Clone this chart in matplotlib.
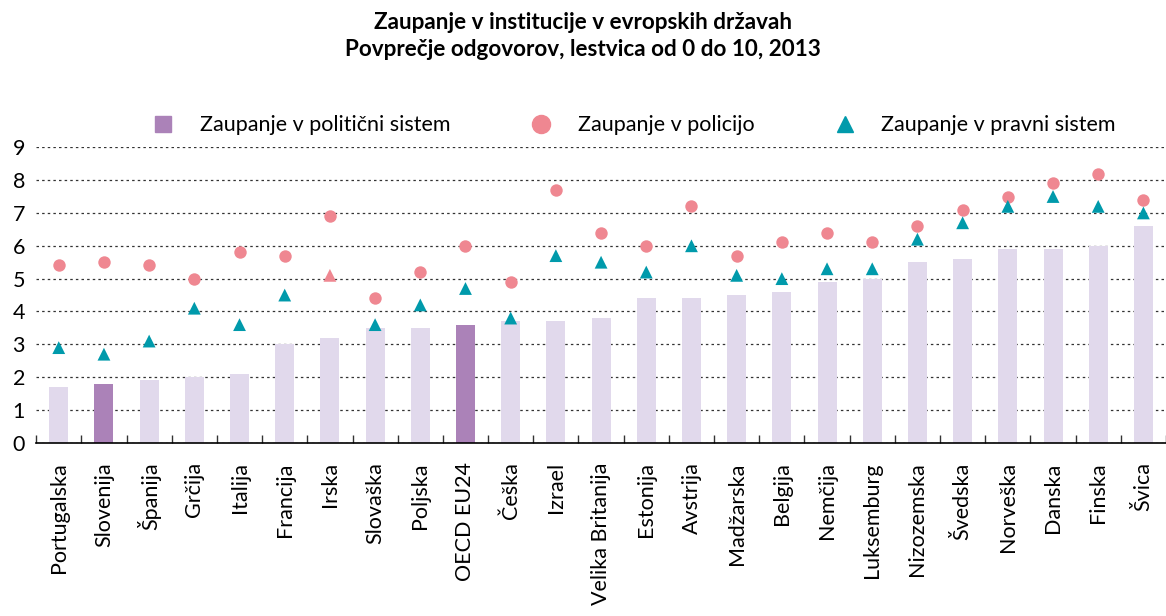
import matplotlib
matplotlib.use("Agg")
import matplotlib.pyplot as plt
from matplotlib.lines import Line2D
import numpy as np

countries = [
    "Portugalska", "Slovenija", "Španija", "Grčija", "Italija", "Francija",
    "Irska", "Slovaška", "Poljska", "OECD EU24", "Češka", "Izrael",
    "Velika Britanija", "Estonija", "Avstrija", "Madžarska", "Belgija",
    "Nemčija", "Luksemburg", "Nizozemska", "Švedska", "Norveška", "Danska",
    "Finska", "Švica",
]
political = [1.7, 1.8, 1.9, 2.0, 2.1, 3.0, 3.2, 3.5, 3.5, 3.6, 3.7, 3.7, 3.8,
             4.4, 4.4, 4.5, 4.6, 4.9, 5.0, 5.5, 5.6, 5.9, 5.9, 6.0, 6.6]
police = [5.4, 5.5, 5.4, 5.0, 5.8, 5.7, 6.9, 4.4, 5.2, 6.0, 4.9, 7.7, 6.4,
          6.0, 7.2, 5.7, 6.1, 6.4, 6.1, 6.6, 7.1, 7.5, 7.9, 8.2, 7.4]
legal = [2.9, 2.7, 3.1, 4.1, 3.6, 4.5, 5.1, 3.6, 4.2, 4.7, 3.8, 5.7, 5.5,
         5.2, 6.0, 5.1, 5.0, 5.3, 5.3, 6.2, 6.7, 7.2, 7.5, 7.2, 7.0]
highlight = ["Slovenija", "OECD EU24"]

LIGHT = "#e1d9ec"
DARK = "#ab82b8"
PINK = "#ef8791"
TEAL = "#009aab"

plt.rcParams["font.family"] = ["Lato", "DejaVu Sans"]

fig = plt.figure(figsize=(11.66, 6.16), dpi=100)
ax = fig.add_axes([0.031, 0.281, 0.969, 0.480])

x = np.arange(len(countries))
bar_colors = [DARK if c in highlight else LIGHT for c in countries]
ax.bar(x, political, width=0.42, color=bar_colors, zorder=2)
ax.scatter(x, police, s=80, marker="o", color=PINK, zorder=3, linewidths=0)
# the Irska triangle is drawn in the police colour in the original
tri_colors = [PINK if c == "Irska" else TEAL for c in countries]
ax.scatter(x, legal, s=85, marker="^", color=tri_colors, zorder=3, linewidths=0)

ax.set_xlim(-0.5, len(countries) - 0.5)
ax.set_ylim(0, 9)
ax.set_yticks(range(10))
ax.yaxis.grid(True, linestyle=(0, (2, 2.5)), color="#333333", linewidth=0.9)
ax.set_axisbelow(True)
for side in ["top", "right", "left"]:
    ax.spines[side].set_visible(False)
ax.spines["bottom"].set_linewidth(1.2)
ax.tick_params(axis="y", length=0, labelsize=15.5, pad=8)

ax.set_xticks(x)
ax.set_xticklabels(countries, rotation=90, fontsize=15.5)
ax.tick_params(axis="x", length=0, pad=14)
ax.set_xticks(np.arange(-0.5, len(countries), 1.0), minor=True)
ax.tick_params(axis="x", which="minor", direction="in", length=6, width=1, color="#333333")

fig.text(0.5, 0.963, "Zaupanje v institucije v evropskih državah",
         ha="center", va="center", fontsize=16.2, fontweight="bold")
fig.text(0.5, 0.920, "Povprečje odgovorov, lestvica od 0 do 10, 2013",
         ha="center", va="center", fontsize=16.2, fontweight="bold")

handles = [
    Line2D([], [], marker="s", linestyle="none", markersize=11, color=DARK),
    Line2D([], [], marker="o", linestyle="none", markersize=13, color=PINK),
    Line2D([], [], marker="^", linestyle="none", markersize=12, color=TEAL),
]
labels = ["Zaupanje v politični sistem", "Zaupanje v policijo", "Zaupanje v pravni sistem"]
fig.legend(handles, labels, loc="center", bbox_to_anchor=(0.543, 0.797), ncol=3,
           frameon=False, fontsize=15.5, columnspacing=3.6, handletextpad=1.1,
           handlelength=1.2)

fig.savefig("out.png", dpi=100)
